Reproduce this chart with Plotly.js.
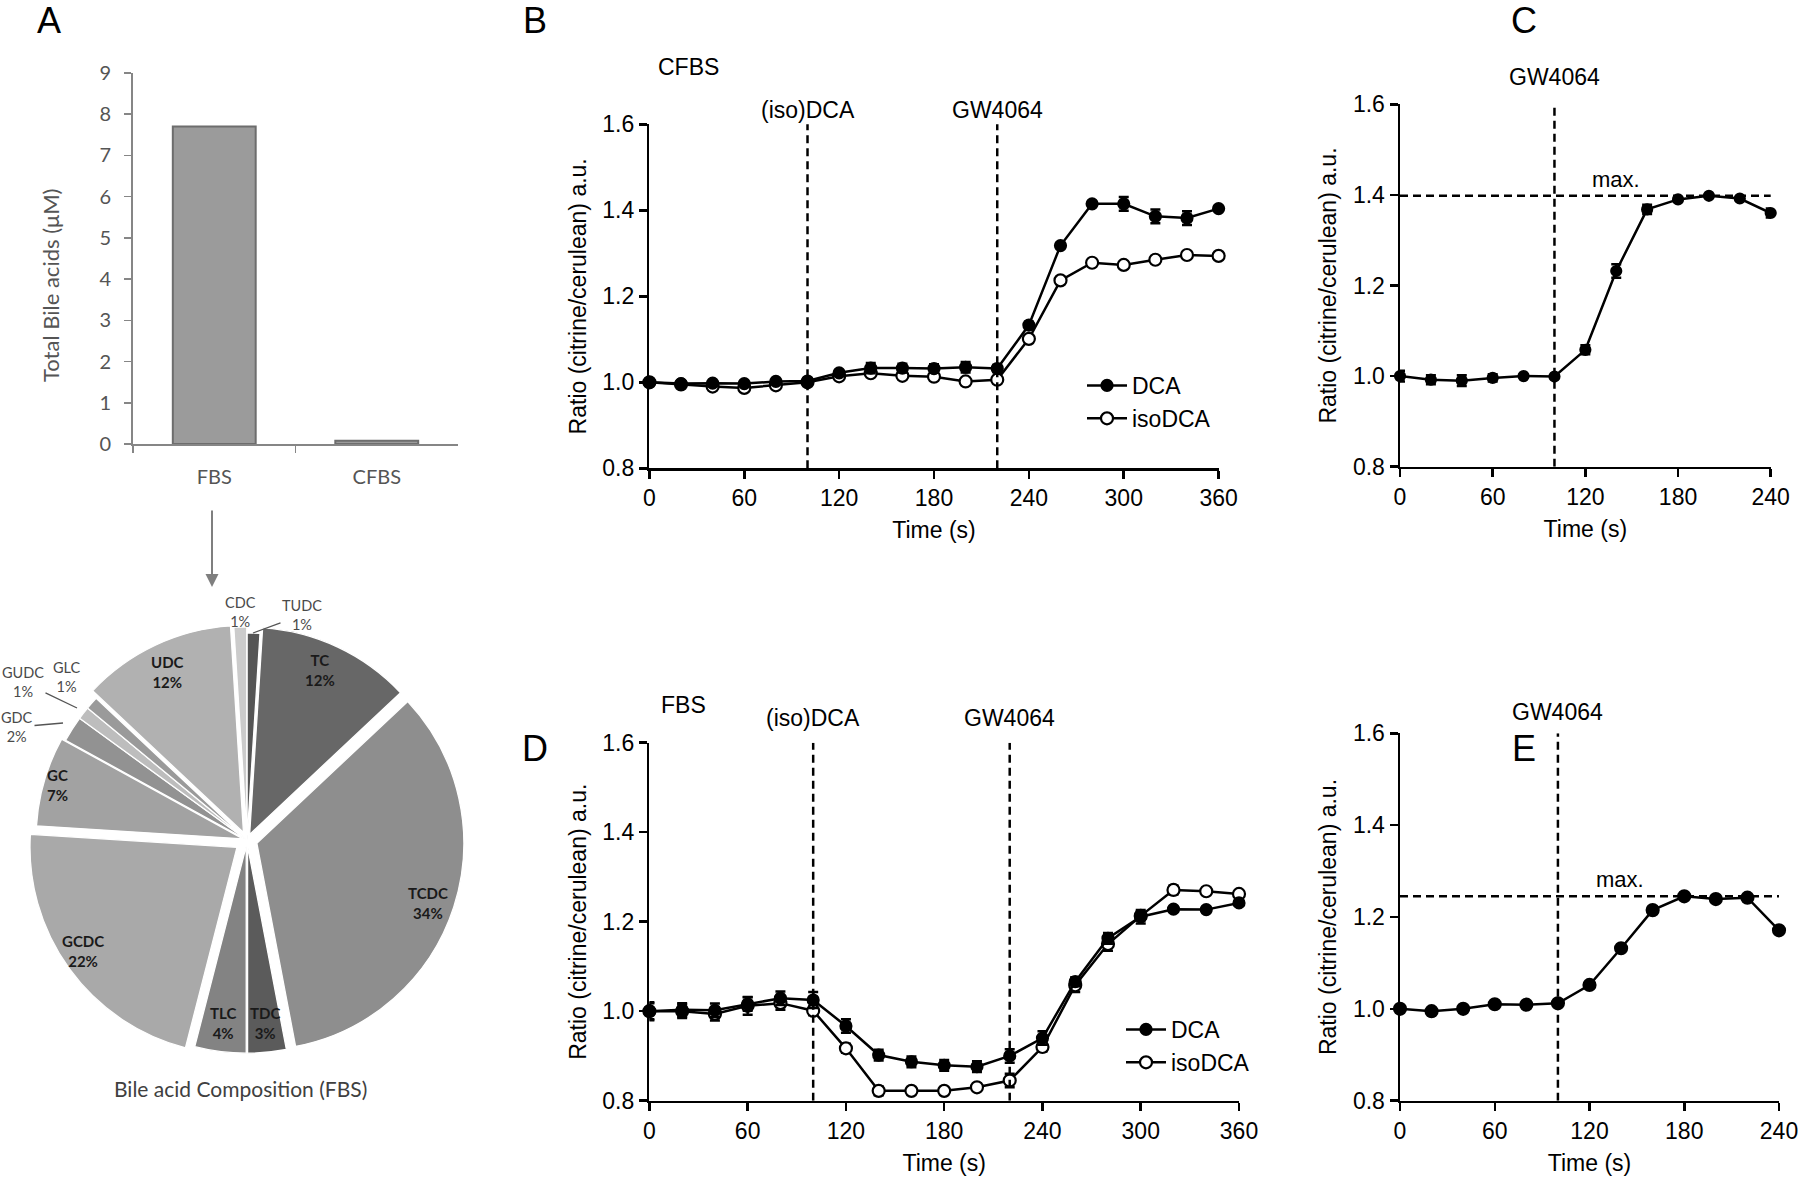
<!DOCTYPE html>
<html>
<head>
<meta charset="utf-8">
<script src="https://cdn.plot.ly/plotly-3.0.1.min.js"></script>
<style>html,body{margin:0;padding:0;background:#fff}</style>
</head>
<body>
<div id="fig" style="width:1800px;height:1182px"></div>
<script>
// A: total bile acids in serum
const serumTypes = ['FBS', 'CFBS'];
const totalBileAcids = [7.7, 0.08];

// A: bile acid composition of FBS (%), clockwise from 12 o'clock
const bileAcids = ['TUDC', 'TC', 'TCDC', 'TDC', 'TLC', 'GCDC', 'GC', 'GDC', 'GLC', 'GUDC', 'UDC', 'CDC'];
const bileAcidPct = [1, 12, 34, 3, 4, 22, 7, 2, 1, 1, 12, 1];

// time points (s)
const time360 = [0, 20, 40, 60, 80, 100, 120, 140, 160, 180, 200, 220, 240, 260, 280, 300, 320, 340, 360];
const time240 = [0, 20, 40, 60, 80, 100, 120, 140, 160, 180, 200, 220, 240];

// B: CFBS
const cfbsDCA = [1.000, 0.997, 0.998, 0.997, 1.002, 1.003, 1.022, 1.033, 1.033, 1.032, 1.035, 1.032, 1.133, 1.318, 1.415, 1.415, 1.386, 1.382, 1.404];
const cfbsDCAerr = [0.004, 0.004, 0.004, 0.004, 0.004, 0.004, 0.006, 0.012, 0.010, 0.010, 0.012, 0.008, 0.008, 0.006, 0.006, 0.016, 0.016, 0.016, 0.006];
const cfbsIso = [1.000, 0.995, 0.990, 0.987, 0.993, 1.000, 1.014, 1.021, 1.015, 1.013, 1.002, 1.006, 1.101, 1.237, 1.278, 1.273, 1.285, 1.296, 1.294];
const cfbsIsoErr = [0.004, 0.004, 0.005, 0.005, 0.004, 0.004, 0.005, 0.005, 0.005, 0.005, 0.005, 0.005, 0.006, 0.006, 0.006, 0.006, 0.006, 0.006, 0.006];

// C: GW4064 alone
const gwOnly = [1.000, 0.992, 0.990, 0.996, 1.000, 0.999, 1.058, 1.232, 1.368, 1.390, 1.398, 1.392, 1.360];
const gwOnlyErr = [0.012, 0.010, 0.012, 0.008, 0.003, 0.003, 0.010, 0.015, 0.010, 0.005, 0.003, 0.004, 0.010];

// D: FBS
const fbsDCA = [1.000, 1.003, 1.002, 1.016, 1.029, 1.025, 0.967, 0.902, 0.887, 0.879, 0.876, 0.900, 0.940, 1.066, 1.163, 1.211, 1.228, 1.227, 1.242];
const fbsDCAerr = [0.020, 0.015, 0.015, 0.015, 0.015, 0.018, 0.015, 0.012, 0.012, 0.012, 0.012, 0.015, 0.015, 0.010, 0.012, 0.015, 0.006, 0.006, 0.006];
const fbsIso = [1.000, 1.000, 0.994, 1.012, 1.018, 1.001, 0.917, 0.822, 0.822, 0.822, 0.830, 0.845, 0.920, 1.058, 1.150, 1.213, 1.271, 1.268, 1.262];
const fbsIsoErr = [0.018, 0.015, 0.015, 0.020, 0.015, 0.010, 0.010, 0.010, 0.006, 0.006, 0.008, 0.015, 0.010, 0.015, 0.015, 0.010, 0.010, 0.006, 0.006];

// E: GW4064 alone (FBS)
const gwOnlyFbs = [1.000, 0.995, 1.000, 1.010, 1.009, 1.012, 1.052, 1.132, 1.215, 1.245, 1.239, 1.242, 1.171];

// treatment times (s)
const dcaTime = 100;
const gwTime = 220;
const gwTimeAlone = 100;

// ---------- layout helpers ----------
const W = 1800, H = 1182;
const fx = p => p / W;
const fy = p => 1 - p / H;
const ARIAL = 'Liberation Sans, Arial, sans-serif';
const CAL = 'Lato, Carlito, sans-serif';

const pieColors = ['#555555', '#676767', '#8e8e8e', '#5b5b5b', '#838383', '#a9a9a9', '#a2a2a2', '#929292', '#bdbdbd', '#9a9a9a', '#b1b1b1', '#cbcbcb'];
const piePull = [0, 0.03, 0.05, 0.03, 0.03, 0.06, 0.02, 0, 0, 0, 0.04, 0.03];

// pie label placement (px); thin slices get grey call-outs, the rest bold labels
const pieLabelPos = {
  TC: [320, 670], TCDC: [428, 903], TDC: [265, 1023], TLC: [223, 1023],
  GCDC: [83, 951], GC: [57, 785], UDC: [167, 672],
  CDC: [240, 612], GLC: [67, 677]
};
const pieCallouts = {TUDC: [253, 633, 49, -18], GUDC: [77, 708, -54, -26], GDC: [63, 723, -46, 4]};
const thinSlices = ['CDC', 'GLC', 'TUDC', 'GUDC', 'GDC'];

function lineTrace(x, y, err, name, filled, xa, ya, legend, size, rank) {
  const t = {
    x: x, y: y, name: name, type: 'scatter', mode: 'lines+markers',
    xaxis: xa, yaxis: ya, cliponaxis: false,
    line: {color: '#000', width: 2.5},
    marker: {size: size, color: filled ? '#000' : '#fff', line: {color: '#000', width: 2.2}},
    showlegend: !!legend, legend: legend || 'legend', legendrank: rank || 1
  };
  if (err) t.error_y = {type: 'data', array: err, visible: true, color: '#000', thickness: 2.5, width: 5};
  return t;
}

const traces = [
  {
    type: 'bar', x: serumTypes, y: totalBileAcids, xaxis: 'x', yaxis: 'y',
    marker: {color: '#9b9b9b', line: {color: '#6d6d6d', width: 2}},
    width: 0.51, showlegend: false
  },
  {
    type: 'pie', labels: bileAcids, values: bileAcidPct, sort: false,
    direction: 'clockwise', rotation: 0, pull: piePull,
    domain: {x: [fx(27.6), fx(466.4)], y: [fy(1059.4), fy(620.6)]},
    marker: {colors: pieColors, line: {color: '#fff', width: 1.3}},
    textinfo: 'none', showlegend: false, hoverinfo: 'label+value'
  },
  lineTrace(time360, cfbsIso, cfbsIsoErr, 'isoDCA', false, 'x2', 'y2', 'legend', 12, 2),
  lineTrace(time360, cfbsDCA, cfbsDCAerr, 'DCA', true, 'x2', 'y2', 'legend', 11, 1),
  lineTrace(time240, gwOnly, gwOnlyErr, 'GW4064', true, 'x3', 'y3', null, 10),
  lineTrace(time360, fbsIso, fbsIsoErr, 'isoDCA', false, 'x4', 'y4', 'legend2', 12, 2),
  lineTrace(time360, fbsDCA, fbsDCAerr, 'DCA', true, 'x4', 'y4', 'legend2', 11, 1),
  lineTrace(time240, gwOnlyFbs, null, 'GW4064', true, 'x5', 'y5', null, 12)
];

function timeAxis(domain, maxT, anchor) {
  return {
    domain: domain, anchor: anchor, range: [0, maxT], dtick: 60, tick0: 0,
    showline: true, linecolor: '#000', linewidth: 2.5, ticks: 'outside', ticklen: 8,
    tickwidth: 2.5, tickcolor: '#000', showgrid: false, zeroline: false,
    tickfont: {family: ARIAL, size: 23, color: '#000'},
    title: {text: 'Time (s)', font: {family: ARIAL, size: 23, color: '#000'}, standoff: 12}
  };
}
function ratioAxis(domain, anchor) {
  return {
    domain: domain, anchor: anchor, range: [0.8, 1.6], dtick: 0.2, tick0: 0.8, tickformat: '.1f',
    showline: true, linecolor: '#000', linewidth: 2.5, ticks: 'outside', ticklen: 8,
    tickwidth: 2.5, tickcolor: '#000', showgrid: false, zeroline: false,
    tickfont: {family: ARIAL, size: 23, color: '#000'},
    title: {text: 'Ratio (citrine/cerulean) a.u.', font: {family: ARIAL, size: 23, color: '#000'}, standoff: 10}
  };
}

const dash = {color: '#000', width: 2.5, dash: '8px,5px'};
function vline(xa, ya, x, top) {
  return {type: 'line', xref: xa, yref: ya, x0: x, x1: x, y0: 0.8, y1: top, line: dash};
}
function hline(xa, ya, y, x1) {
  return {type: 'line', xref: xa, yref: ya, x0: 0, x1: x1, y0: y, y1: y, line: dash};
}
const maxC = Math.max(...gwOnly);
const maxE = Math.max(...gwOnlyFbs);

function label(text, x, y, opts) {
  return Object.assign({text: text, x: x, y: y, xref: 'paper', yref: 'paper', showarrow: false,
    xanchor: 'center', yanchor: 'middle',
    font: {family: ARIAL, size: 23, color: '#000'}}, opts || {});
}
function markLabel(text, xa, x, py) {
  return {text: text, x: x, xref: xa, y: fy(py), yref: 'paper', showarrow: false,
    xanchor: 'center', yanchor: 'middle', font: {family: ARIAL, size: 23, color: '#000'}};
}
const letterFont = {family: ARIAL, size: 36, color: '#000'};
const smallFont = {family: CAL, size: 14.5, color: '#4a4a4a'};
const boldFont = {family: CAL, size: 15, color: '#1a1a1a', weight: 'bold'};

const annotations = [
  // panel letters
  label('A', fx(49), fy(21), {font: letterFont}),
  label('B', fx(535), fy(21), {font: letterFont}),
  label('C', fx(1524), fy(21), {font: letterFont}),
  label('D', fx(535), fy(748), {font: letterFont}),
  label('E', fx(1524), fy(748), {font: letterFont}),
  // A: bar chart y title (sits a little below the axis middle in the original)
  label('Total Bile acids (μM)', fx(50), fy(286), {textangle: -90, font: {family: CAL, size: 22, color: '#555'}}),
  // B
  label('CFBS', fx(688), fy(67)),
  markLabel('(iso)DCA', 'x2', dcaTime, 110),
  markLabel('GW4064', 'x2', gwTime, 110),
  // C
  markLabel('GW4064', 'x3', gwTimeAlone, 77),
  {text: 'max.', x: 140, xref: 'x3', y: maxC, yref: 'y3', xanchor: 'center', yanchor: 'bottom', yshift: 2,
   showarrow: false, font: {family: ARIAL, size: 22, color: '#000'}},
  // D
  label('FBS', fx(683), fy(705)),
  markLabel('(iso)DCA', 'x4', dcaTime, 718),
  markLabel('GW4064', 'x4', gwTime, 718),
  // E
  markLabel('GW4064', 'x5', gwTimeAlone, 712),
  {text: 'max.', x: 139, xref: 'x5', y: maxE, yref: 'y5', xanchor: 'center', yanchor: 'bottom', yshift: 2,
   showarrow: false, font: {family: ARIAL, size: 22, color: '#000'}},
  // A: arrow from FBS bar to the pie
  {x: fx(212), y: fy(587), xref: 'paper', yref: 'paper', text: '', showarrow: true,
   ax: 0, ay: -78, arrowhead: 2, arrowsize: 1.3, arrowwidth: 2, arrowcolor: '#7f7f7f'},
  label('Bile acid Composition (FBS)', fx(240), fy(1088), {font: {family: CAL, size: 21, color: '#404040'}})
];

// pie labels built from the composition arrays
bileAcids.forEach((name, i) => {
  const txt = name + '<br>' + bileAcidPct[i] + '%';
  const thin = thinSlices.includes(name);
  const font = thin ? smallFont : boldFont;
  const txtOut = thin ? txt : '<b>' + txt + '</b>';
  if (pieCallouts[name]) {
    const c = pieCallouts[name];
    annotations.push({text: txtOut, x: fx(c[0]), y: fy(c[1]), xref: 'paper', yref: 'paper',
      showarrow: true, ax: c[2], ay: c[3], arrowhead: 0, arrowwidth: 1.3, arrowcolor: '#555', font: font});
  } else if (pieLabelPos[name]) {
    const p = pieLabelPos[name];
    annotations.push(label(txtOut, fx(p[0]), fy(p[1]), {font: font}));
  }
});

const legendStyle = {
  bgcolor: 'rgba(0,0,0,0)', borderwidth: 0, itemwidth: 40, xanchor: 'left', yanchor: 'top',
  font: {family: ARIAL, size: 23, color: '#000'}, traceorder: 'normal', itemclick: false
};

const layout = {
  width: W, height: H, margin: {l: 0, r: 0, t: 0, b: 0},
  paper_bgcolor: '#fff', plot_bgcolor: 'rgba(0,0,0,0)',
  showlegend: true,
  legend: Object.assign({x: fx(1082), y: fy(364)}, legendStyle),
  legend2: Object.assign({x: fx(1121), y: fy(1008)}, legendStyle),
  xaxis: {
    domain: [fx(133), fx(458)], anchor: 'y', type: 'category',
    showline: true, linecolor: '#868686', linewidth: 1.8, ticks: 'outside', tickson: 'boundaries',
    ticklen: 7, tickcolor: '#868686', tickwidth: 1.5, showgrid: false, ticklabelstandoff: 14,
    tickfont: {family: CAL, size: 20, color: '#555'}
  },
  yaxis: {
    domain: [fy(444), fy(73)], anchor: 'x', range: [0, 9], dtick: 1,
    showline: true, linecolor: '#868686', linewidth: 1.8, ticks: 'outside', ticklen: 7,
    tickcolor: '#868686', tickwidth: 1.5, showgrid: false, zeroline: false, ticklabelstandoff: 9,
    tickfont: {family: CAL, size: 20, color: '#555'}
  },
  xaxis2: timeAxis([fx(649.4), fx(1218.6)], 360, 'y2'),
  yaxis2: ratioAxis([fy(468.3), fy(124.3)], 'x2'),
  xaxis3: timeAxis([fx(1400), fx(1770.7)], 240, 'y3'),
  yaxis3: ratioAxis([fy(466.7), fy(104.3)], 'x3'),
  xaxis4: timeAxis([fx(649.4), fx(1239)], 360, 'y4'),
  yaxis4: ratioAxis([fy(1100.7), fy(742.7)], 'x4'),
  xaxis5: timeAxis([fx(1400), fx(1779)], 240, 'y5'),
  yaxis5: ratioAxis([fy(1100.7), fy(733.3)], 'x5'),
  shapes: [
    vline('x2', 'y2', dcaTime, 1.606), vline('x2', 'y2', gwTime, 1.606),
    vline('x3', 'y3', gwTimeAlone, 1.6), hline('x3', 'y3', maxC, 242),
    vline('x4', 'y4', dcaTime, 1.6), vline('x4', 'y4', gwTime, 1.6),
    vline('x5', 'y5', gwTimeAlone, 1.6), hline('x5', 'y5', maxE, 243)
  ],
  annotations: annotations
};

Plotly.newPlot('fig', traces, layout, {staticPlot: true});
</script>
</body>
</html>
